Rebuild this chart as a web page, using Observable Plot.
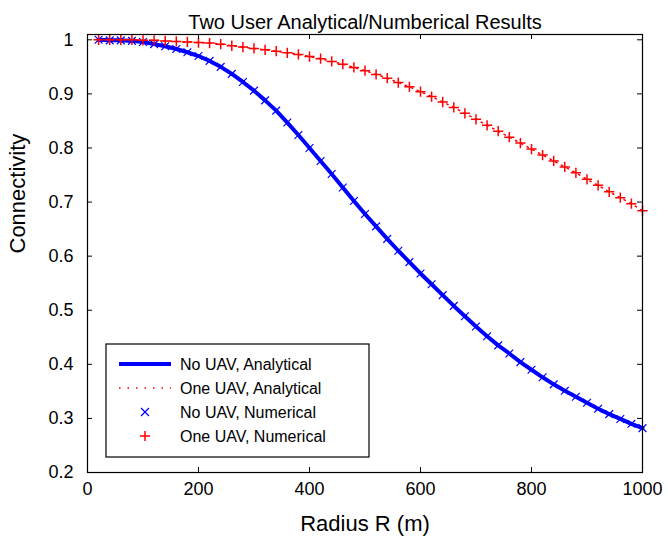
<!DOCTYPE html>
<html><head><meta charset="utf-8">
<script src="https://cdn.jsdelivr.net/npm/d3@7"></script>
<script src="https://cdn.jsdelivr.net/npm/@observablehq/plot@0.6"></script>
<style>body{margin:0;background:#fff;} #chart svg{display:block;}</style>
</head><body><div id="chart"></div>
<script>
const radius = [20,40,60,80,100,120,140,160,180,200,220,240,260,280,300,320,340,360,380,400,420,440,460,480,500,520,540,560,580,600,620,640,660,680,700,720,740,760,780,800,820,840,860,880,900,920,940,960,980,1000];
const noUav = [1.000,0.999,0.999,0.998,0.996,0.992,0.988,0.983,0.977,0.970,0.961,0.950,0.937,0.922,0.906,0.888,0.869,0.847,0.824,0.800,0.776,0.752,0.727,0.702,0.678,0.655,0.632,0.610,0.589,0.568,0.548,0.528,0.508,0.489,0.470,0.452,0.435,0.420,0.404,0.390,0.376,0.363,0.351,0.340,0.329,0.318,0.308,0.299,0.290,0.282];
const oneUav = [1.000,1.000,1.000,1.000,0.999,0.999,0.998,0.997,0.996,0.995,0.994,0.992,0.989,0.9865,0.984,0.9815,0.979,0.976,0.973,0.969,0.965,0.960,0.955,0.949,0.943,0.936,0.929,0.921,0.913,0.904,0.895,0.885,0.875,0.864,0.853,0.842,0.831,0.820,0.809,0.798,0.787,0.776,0.765,0.754,0.742,0.731,0.719,0.708,0.697,0.684];
const xTicks = [0,200,400,600,800,1000];
const yTicks = [0.2,0.3,0.4,0.5,0.6,0.7,0.8,0.9,1];
const seriesNames = ["No UAV, Analytical","One UAV, Analytical","No UAV, Numerical","One UAV, Numerical"];
const titleText = "Two User Analytical/Numberical Results";
const xLabel = "Radius R (m)";
const yLabel = "Connectivity";

const noData = radius.map((r,i)=>({r, c: noUav[i]}));
const oneData = radius.map((r,i)=>({r, c: oneUav[i]}));
const BLUE = "#0000ff", RED = "#ff0000";
const FONT = "'Liberation Sans', Arial, Helvetica, sans-serif";

const W = 668, H = 550, ML = 87, MR = 26, MT = 34, MB = 78;
const FW = W - ML - MR, FH = H - MT - MB, TK = 5;

const chart = Plot.plot({
  width: W, height: H, marginLeft: ML, marginRight: MR, marginTop: MT, marginBottom: MB,
  style: {fontFamily: FONT, background: "white", color: "black"},
  x: {domain: [0, 1000]},
  y: {domain: [0.2, 1.0098]},
  marks: [
    Plot.line(noData, {x: "r", y: "c", stroke: BLUE, strokeWidth: 4}),
    Plot.line(oneData, {x: "r", y: "c", stroke: RED, strokeWidth: 1.5, strokeDasharray: "1.5 5"}),
    Plot.dot(noData, {x: "r", y: "c", symbol: "times", r: 3.6, stroke: BLUE, strokeWidth: 1.2}),
    Plot.dot(oneData, {x: "r", y: "c", symbol: "plus", r: 3.4, stroke: RED, strokeWidth: 1.5}),
    Plot.ruleX(xTicks, {x: d => d, stroke: "#000", insetTop: FH - TK}),
    Plot.ruleX(xTicks, {x: d => d, stroke: "#000", insetBottom: FH - TK}),
    Plot.ruleY(yTicks, {y: d => d, stroke: "#000", insetRight: FW - TK}),
    Plot.ruleY(yTicks, {y: d => d, stroke: "#000", insetLeft: FW - TK}),
    Plot.frame({stroke: "#000", strokeWidth: 1.2}),
    Plot.axisX(xTicks, {tickSize: 0, tickPadding: 10, fontSize: 18, label: null, tickFormat: d => String(d)}),
    Plot.axisY(yTicks, {tickSize: 0, tickPadding: 14, fontSize: 18, label: null, tickFormat: d => d === 1 ? "1" : d.toFixed(1)}),
    Plot.text([titleText], {text: d => d, frameAnchor: "top", dy: -20, fontSize: 20}),
    Plot.text([xLabel], {text: d => d, frameAnchor: "bottom", dy: 58, fontSize: 22}),
    Plot.text([yLabel], {text: d => d, frameAnchor: "left", dx: -70, rotate: -90, fontSize: 22})
  ]
});
document.getElementById("chart").appendChild(chart);

// Legend (MATLAB-style box in the lower-left of the axes)
const svg = d3.select(chart);
const lg = svg.append("g").attr("font-family", FONT).attr("font-size", 16).attr("text-anchor", "start");
const LX = 106, LY = 344, LW = 263, LH = 113;
lg.append("rect").attr("x", LX).attr("y", LY).attr("width", LW).attr("height", LH)
  .attr("fill", "white").attr("stroke", "#000").attr("stroke-width", 1.2);
const rows = [364, 388, 412, 436];
seriesNames.forEach((name, i) => {
  const y = rows[i];
  if (i === 0) lg.append("line").attr("x1", 119).attr("x2", 171).attr("y1", y).attr("y2", y).attr("stroke", BLUE).attr("stroke-width", 4);
  if (i === 1) lg.append("line").attr("x1", 119).attr("x2", 171).attr("y1", y).attr("y2", y).attr("stroke", RED).attr("stroke-width", 1.5).attr("stroke-dasharray", "1.5 7");
  if (i === 2) lg.append("path").attr("d", `M141,${y-4}L149,${y+4}M141,${y+4}L149,${y-4}`).attr("stroke", BLUE).attr("stroke-width", 1.2).attr("fill", "none");
  if (i === 3) lg.append("path").attr("d", `M140,${y}L150,${y}M145,${y-5}L145,${y+5}`).attr("stroke", RED).attr("stroke-width", 1.5).attr("fill", "none");
  lg.append("text").attr("x", 180).attr("y", y).attr("dy", "0.35em").attr("text-anchor", "start").attr("fill", "black").text(name);
});
</script>
</body></html>
